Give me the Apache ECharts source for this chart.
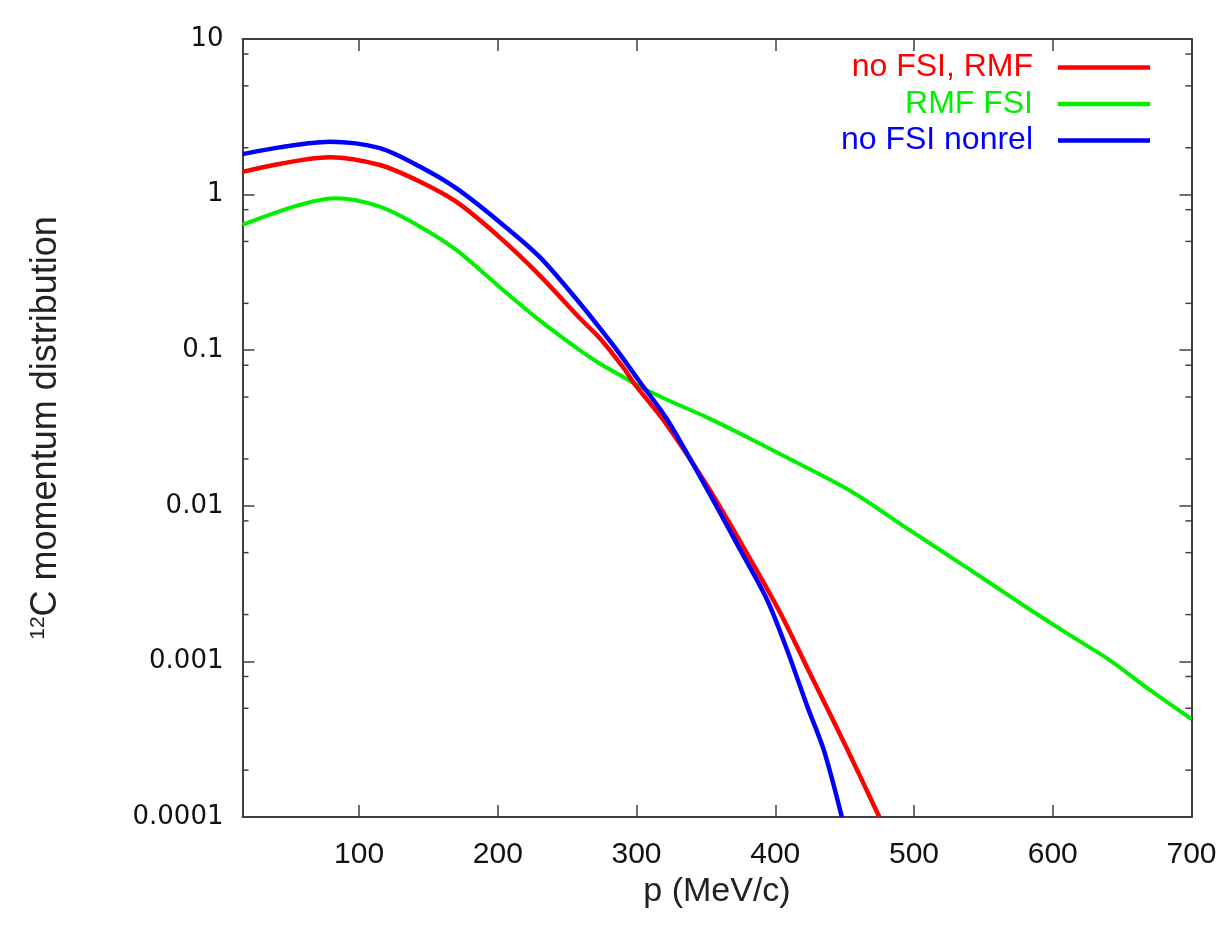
<!DOCTYPE html>
<html>
<head>
<meta charset="utf-8">
<script src="https://cdn.jsdelivr.net/npm/echarts@6/dist/echarts.min.js"></script>
<style>
html,body{margin:0;padding:0;background:#fff;}
#c{width:1230px;height:930px;}
</style>
</head>
<body>
<div id="c"></div>
<script>
// ---- data ----
const xTicks = [100, 200, 300, 400, 500, 600, 700];
const yTickLabels = ['0.0001', '0.001', '0.01', '0.1', '1', '10'];
const yMinorTicks = [0.0002, 0.0005, 0.0008, 0.002, 0.005, 0.008, 0.02, 0.05, 0.08, 0.2, 0.5, 0.8, 2, 5, 8];

const redP = [16, 79, 115, 144, 170, 201, 230, 259, 274, 290, 298, 322, 351, 377, 403, 427, 451, 475];
const redV = [1.40, 1.74, 1.55, 1.21, 0.90, 0.535, 0.304, 0.161, 0.118, 0.0783, 0.0617, 0.033, 0.0134, 0.00543, 0.0021, 0.00077, 0.000283, 0.0001];

const greenP = [16, 83, 115, 144, 170, 201, 230, 259, 274, 290, 302, 322, 350, 382, 408, 454, 495, 526, 555, 584, 612, 641, 670, 700];
const greenV = [0.638, 0.946, 0.836, 0.622, 0.441, 0.256, 0.156, 0.100, 0.0815, 0.0676, 0.0586, 0.048, 0.0373, 0.027, 0.0205, 0.0125, 0.00716, 0.00471, 0.00318, 0.00214, 0.00148, 0.00102, 0.000655, 0.000425];

const blueP = [16, 79, 115, 144, 170, 201, 230, 259, 274, 288, 302, 322, 351, 375, 394, 408, 423, 435, 448];
const blueV = [1.82, 2.19, 1.99, 1.51, 1.10, 0.670, 0.399, 0.201, 0.137, 0.0944, 0.0632, 0.036, 0.0127, 0.00516, 0.0025, 0.00122, 0.000516, 0.000269, 0.0001];

const seriesNames = ['no FSI, RMF', 'RMF FSI', 'no FSI nonrel'];
const seriesColors = ['#ff0000', '#00f000', '#0000ff'];

const X_MIN = 16, X_MAX = 700, Y_MIN = 0.0001, Y_MAX = 10;
const AX = '#404040';
const FONT = "'Liberation Sans', Arial, sans-serif";

function pairs(p, v) { return p.map((x, i) => [x, v[i]]); }

const chart = echarts.init(document.getElementById('c'), null, {renderer: 'canvas'});

const yLabelMap = {};
yTickLabels.forEach(s => { yLabelMap[Math.round(Math.log10(parseFloat(s)))] = s; });

const xAxisCommon = {
  type: 'value', min: X_MIN, max: X_MAX,
  splitLine: {show: false},
  axisLine: {show: true, onZero: false, lineStyle: {color: AX, width: 2}},
  axisTick: {show: true, inside: true, length: 12, lineStyle: {color: AX, width: 1.5},
    customValues: xTicks},
};
const yAxisCommon = {
  type: 'log', logBase: 10, min: Y_MIN, max: Y_MAX,
  splitLine: {show: false},
  axisLine: {show: true, onZero: false, lineStyle: {color: AX, width: 2}},
  axisTick: {show: true, inside: true, length: 12, lineStyle: {color: AX, width: 1.5}},
};

chart.setOption({
  animation: false,
  backgroundColor: '#fff',
  grid: {left: 242.5, right: 38.5, top: 39, bottom: 113, containLabel: false},
  legend: {
    orient: 'vertical', right: 75, top: 46, align: 'right',
    icon: 'rect', itemWidth: 92, itemHeight: 4.5, itemGap: 3.5,
    textStyle: {fontFamily: FONT, fontSize: 32, lineHeight: 33, padding: [0, 20, 0, 0]},
    data: seriesNames.map((n, i) => ({name: n, textStyle: {color: seriesColors[i]}})),
    selectedMode: false
  },
  xAxis: [
    Object.assign({}, xAxisCommon, {
      position: 'bottom',
      name: 'p (MeV/c)', nameLocation: 'middle', nameGap: 52,
      nameTextStyle: {fontFamily: FONT, fontSize: 34, color: '#222'},
      axisLabel: {show: true, margin: 23, fontFamily: FONT, fontSize: 30, color: '#111',
        customValues: xTicks, formatter: v => String(v)}
    }),
    Object.assign({}, xAxisCommon, {position: 'top', axisLabel: {show: false}})
  ],
  yAxis: [
    Object.assign({}, yAxisCommon, {
      position: 'left',
      name: '{sup|12}{b|C momentum distribution}', nameLocation: 'middle', nameGap: 178, nameRotate: 90,
      nameTextStyle: {fontFamily: FONT, fontSize: 36, color: '#222',
        rich: {sup: {fontFamily: FONT, fontSize: 21, color: '#222', verticalAlign: 'top', padding: [0, 0, 16, 0]},
               b: {fontFamily: FONT, fontSize: 36, color: '#222'}}},
      axisLabel: {show: true, margin: 19, fontFamily: "'DejaVu Sans', sans-serif", fontSize: 26, color: '#111',
        formatter: v => { const k = Math.round(Math.log10(v)); return yLabelMap[k] !== undefined ? yLabelMap[k] : ''; }}
    }),
    Object.assign({}, yAxisCommon, {position: 'right', axisLabel: {show: false}})
  ],
  series: [
    {name: seriesNames[0], type: 'line', data: pairs(redP, redV), symbol: 'none', smooth: 0.3,
      lineStyle: {color: seriesColors[0], width: 4.5}, itemStyle: {color: seriesColors[0]}, z: 3},
    {name: seriesNames[1], type: 'line', data: pairs(greenP, greenV), symbol: 'none', smooth: 0.3,
      lineStyle: {color: seriesColors[1], width: 4}, itemStyle: {color: seriesColors[1]}, z: 2},
    {name: seriesNames[2], type: 'line', data: pairs(blueP, blueV), symbol: 'none', smooth: 0.3,
      lineStyle: {color: seriesColors[2], width: 4.5}, itemStyle: {color: seriesColors[2]}, z: 4},
    {
      type: 'custom', silent: true, z: 5,
      data: yMinorTicks.map(v => [v]),
      encode: {y: 0},
      renderItem: function (params, api) {
        const v = api.value(0);
        const l = api.coord([X_MIN, v]);
        const r = api.coord([X_MAX, v]);
        const st = {stroke: AX, lineWidth: 1.5};
        return {type: 'group', children: [
          {type: 'line', shape: {x1: l[0], y1: l[1], x2: l[0] + 6, y2: l[1]}, style: st},
          {type: 'line', shape: {x1: r[0], y1: r[1], x2: r[0] - 6, y2: r[1]}, style: st}
        ]};
      }
    }
  ]
});
</script>
</body>
</html>
